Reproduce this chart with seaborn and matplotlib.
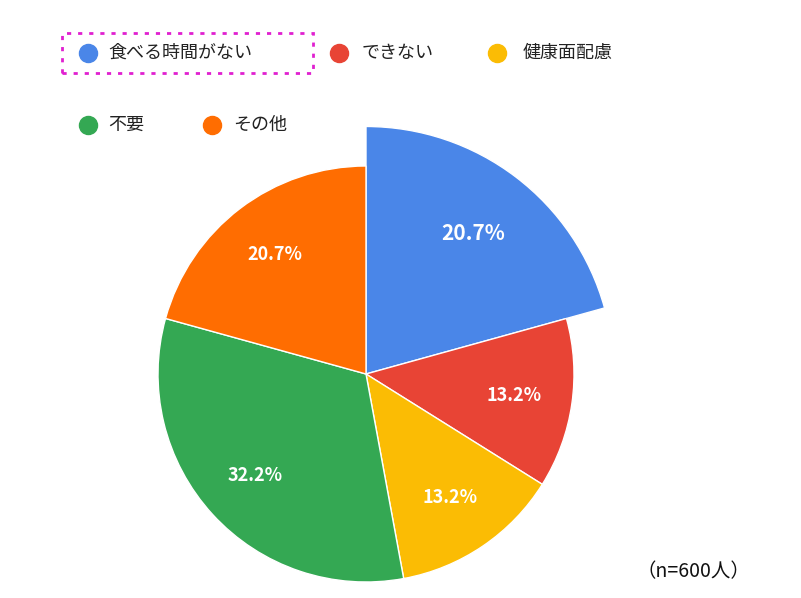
import matplotlib
matplotlib.use("Agg")
import matplotlib.pyplot as plt
import seaborn as sns
from matplotlib.lines import Line2D
from matplotlib.patches import Rectangle
import numpy as np

sns.set_theme(style="white")
plt.rcParams['font.family'] = ['Noto Sans CJK JP', 'DejaVu Sans']

categories = ["食べる時間がない", "できない", "健康面配慮", "不要", "その他"]
values = [20.7, 13.2, 13.2, 32.2, 20.7]
colors = ["#4a86e8", "#e84435", "#fbbc04", "#34a853", "#ff6d01"]

W, H = 801, 598
fig = plt.figure(figsize=(W / 100, H / 100), dpi=100)
fig.patch.set_facecolor("white")

cx, cy, r = 366, 374, 208
ax = fig.add_axes([(cx - r) / W, (H - cy - r) / H, 2 * r / W, 2 * r / H])
wedges, texts, autotexts = ax.pie(
    values, colors=colors, startangle=90, counterclock=False,
    autopct="%.1f%%", pctdistance=0.72,
    wedgeprops=dict(edgecolor="white", linewidth=1),
    textprops=dict(color="white", fontsize=13, fontweight="bold"))
ax.set_xlim(-1, 1)
ax.set_ylim(-1, 1)
for w in wedges:
    w.set_clip_on(False)
wedges[0].set_radius(1.19)
mid = np.deg2rad((wedges[0].theta1 + wedges[0].theta2) / 2)
autotexts[0].set_position((0.85 * np.cos(mid), 0.85 * np.sin(mid)))
autotexts[0].set_fontsize(15)

# legend, laid out like the original
legend_pos = [(88, 53, 108), (339, 53, 362), (497, 53, 523), (88, 125, 108), (212, 125, 233)]
for (mx, my, tx), lab, col in zip(legend_pos, categories, colors):
    fig.add_artist(Line2D([mx / W], [1 - my / H], marker="o", markersize=13,
                          color=col, linestyle="none", transform=fig.transFigure))
    fig.text(tx / W, 1 - my / H, lab, fontsize=13, va="center", ha="left", color="#222222")

fig.add_artist(Rectangle((62 / W, 1 - 73 / H), 251 / W, 40 / H, fill=False,
                         edgecolor="#e020d0", linestyle=(0, (1.5, 2.5)), linewidth=2,
                         transform=fig.transFigure))

fig.text(750 / W, 1 - 572 / H, "（n=600人）", fontsize=14, ha="right", va="center", color="#111111")

fig.savefig("out.png", dpi=100)
